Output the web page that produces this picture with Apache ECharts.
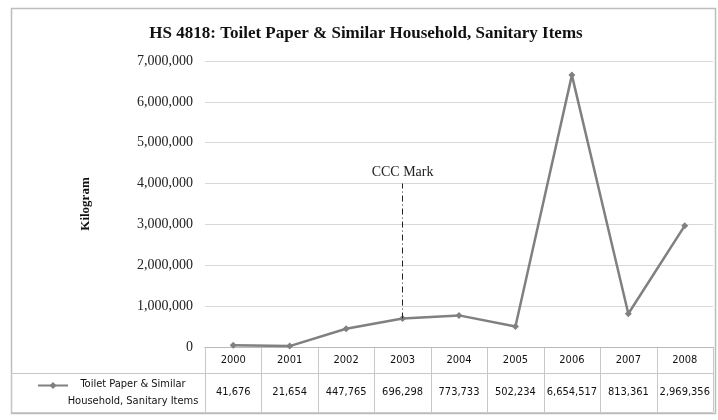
<!DOCTYPE html>
<html>
<head>
<meta charset="utf-8">
<script src="https://cdn.jsdelivr.net/npm/echarts@6/dist/echarts.min.js"></script>
<style>
  html, body { margin: 0; padding: 0; background: #ffffff; }
  #chart { width: 718px; height: 420px; }
</style>
</head>
<body>
<div id="chart"></div>
<script>
// Annual volumes, HS 4818 toilet paper & similar household / sanitary items
const years = ['2000', '2001', '2002', '2003', '2004', '2005', '2006', '2007', '2008'];
const kilograms = [41676, 21654, 447765, 696298, 773733, 502234, 6654517, 813361, 2969356];
const seriesName = 'Toilet Paper & Similar Household, Sanitary Items';
const legendLines = ['Toilet Paper & Similar', 'Household, Sanitary Items'];
const yMin = 0;
const yMax = 7000000;
const yStep = 1000000;
// CCC certification marker: drawn at 2003, reaching up to 4,000,000 kg
const markYear = '2003';
const markTop = 4000000;
const markLabel = 'CCC Mark';

const fmt = v => Number(v).toLocaleString('en-US');

const chart = echarts.init(document.getElementById('chart'));

const serif = '"Liberation Serif", "Times New Roman", serif';
const narrow = '"Liberation Sans Narrow", "DejaVu Sans Condensed", "Liberation Sans", sans-serif';

chart.setOption({
  backgroundColor: '#ffffff',
  animation: false,
  title: {
    text: 'HS 4818: Toilet Paper & Similar Household, Sanitary Items',
    left: 361,
    textAlign: 'center',
    top: 20,
    textStyle: { fontFamily: serif, fontSize: 17, fontWeight: 'bold', color: '#111' }
  },
  grid: { left: 205, right: 5, top: 61, bottom: 73 },
  xAxis: {
    type: 'category',
    data: years,
    boundaryGap: true,
    axisLine: { lineStyle: { color: '#b8b8b8', width: 1 } },
    axisTick: { show: false },
    axisLabel: { fontFamily: narrow, fontSize: 11, color: '#111', margin: 8 },
    splitLine: { show: false }
  },
  yAxis: {
    type: 'value',
    min: yMin,
    max: yMax,
    interval: yStep,
    name: 'Kilogram',
    nameLocation: 'middle',
    nameRotate: 90,
    nameGap: 113,
    nameTextStyle: { fontFamily: serif, fontSize: 13, fontWeight: 'bold', color: '#111' },
    axisLine: { show: false },
    axisTick: { show: false },
    axisLabel: { fontFamily: serif, fontSize: 14, color: '#222', margin: 12, formatter: v => fmt(v) },
    splitLine: { lineStyle: { color: '#d8d8d8', width: 1 } }
  },
  series: [{
    name: seriesName,
    type: 'line',
    data: kilograms,
    symbol: 'diamond',
    symbolSize: 7,
    itemStyle: { color: '#808080' },
    lineStyle: { color: '#808080', width: 2.5 },
    markLine: {
      silent: true,
      symbol: ['none', 'none'],
      lineStyle: { color: '#222', width: 1, type: [6, 3, 1, 3] },
      label: {
        show: true,
        position: 'end',
        formatter: markLabel,
        fontFamily: serif,
        fontSize: 14,
        color: '#222',
        distance: 4
      },
      data: [[
        { coord: [markYear, kilograms[years.indexOf(markYear)]] },
        { coord: [markYear, markTop] }
      ]]
    }
  }]
});

// Data table under the plot: one column per year, plus the legend cell
function buildTable() {
  const xa = chart.convertToPixel({ xAxisIndex: 0 }, years[0]);
  const xb = chart.convertToPixel({ xAxisIndex: 0 }, years[1]);
  const band = xb - xa;
  const yBase = chart.convertToPixel({ yAxisIndex: 0 }, 0);
  const headerBottom = yBase + 26;
  const tableBottom = yBase + 65;
  const leftEdge = xa - band / 2;
  const lineColor = '#c8c8c8';
  const els = [];

  // outer frame of the chart
  els.push({
    type: 'rect', silent: true,
    shape: { x: 11.5, y: 8.5, width: 704, height: 405 },
    style: { fill: null, stroke: '#bdbdbd', lineWidth: 1.5 }
  });

  // column separators
  for (let i = 0; i <= years.length; i++) {
    const x = Math.round(leftEdge + i * band) + 0.5;
    els.push({ type: 'line', silent: true,
      shape: { x1: x, y1: yBase, x2: x, y2: tableBottom },
      style: { stroke: lineColor, lineWidth: 1 } });
  }
  // row separators
  [headerBottom, tableBottom].forEach(y => {
    els.push({ type: 'line', silent: true,
      shape: { x1: 11.5, y1: Math.round(y) + 0.5, x2: leftEdge + years.length * band, y2: Math.round(y) + 0.5 },
      style: { stroke: lineColor, lineWidth: 1 } });
  });
  // legend cell left edge
  els.push({ type: 'line', silent: true,
    shape: { x1: 11.5, y1: headerBottom, x2: 11.5, y2: tableBottom },
    style: { stroke: lineColor, lineWidth: 1 } });

  // values row
  kilograms.forEach((v, i) => {
    els.push({ type: 'text', silent: true,
      x: chart.convertToPixel({ xAxisIndex: 0 }, years[i]),
      y: (headerBottom + tableBottom) / 2,
      style: { text: fmt(v), textAlign: 'center', textVerticalAlign: 'middle',
        font: '11px ' + narrow, fill: '#111' } });
  });

  // legend key: line sample with marker, then the series name on two lines
  const keyY = (headerBottom + tableBottom) / 2 - 7;
  els.push({ type: 'line', silent: true,
    shape: { x1: 38, y1: keyY, x2: 68, y2: keyY },
    style: { stroke: '#808080', lineWidth: 2 } });
  els.push({ type: 'polygon', silent: true,
    shape: { points: [[53, keyY - 3.5], [56.5, keyY], [53, keyY + 3.5], [49.5, keyY]] },
    style: { fill: '#808080' } });
  els.push({ type: 'text', silent: true,
    x: 133, y: (headerBottom + tableBottom) / 2,
    style: { text: legendLines.join('\n'), textAlign: 'center', textVerticalAlign: 'middle',
      font: '11px ' + narrow, fill: '#111', lineHeight: 17 } });

  chart.setOption({ graphic: { elements: els } });
}
buildTable();
</script>
</body>
</html>
